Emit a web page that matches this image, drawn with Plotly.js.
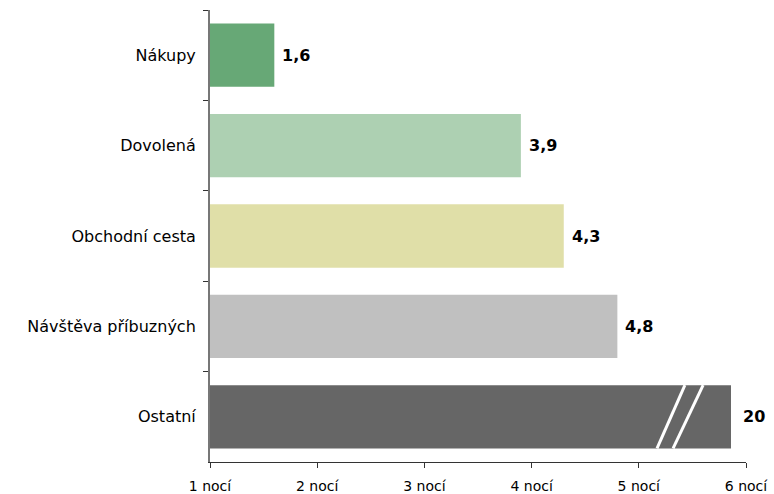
<!DOCTYPE html>
<html><head><meta charset="utf-8">
<script src="https://cdn.plot.ly/plotly-3.0.1.min.js"></script>
<style>body{margin:0;background:#fff}#c{width:774px;height:494px}</style>
</head><body><div id="c"></div>
<script>
const categories = ["Nákupy", "Dovolená", "Obchodní cesta", "Návštěva příbuzných", "Ostatní"];
const values = [1.6, 3.9, 4.3, 4.8, 20];          // actual average nights
const drawnLength = [1.6, 3.9, 4.3, 4.8, 5.86];   // last bar is drawn broken
const valueLabels = ["1,6", "3,9", "4,3", "4,8", "20"];
const colors = ["#67a876", "#add0b2", "#e0dfa8", "#c0c0c0", "#666666"];
const tickVals = [1, 2, 3, 4, 5, 6];
const tickText = ["1 nocí", "2 nocí", "3 nocí", "4 nocí", "5 nocí", "6 nocí"];

const font = "DejaVu Sans, Verdana, sans-serif";
const last = categories.length - 1;
const endX = drawnLength[last];
const breaks = [[endX - 0.69, endX - 0.43], [endX - 0.54, endX - 0.26]];
const shapes = breaks.map(b => ({
  type: "line", xref: "x", yref: "y",
  x0: b[0], x1: b[1], y0: last + 0.35, y1: last - 0.35,
  line: {color: "#ffffff", width: 3}
}));
const annotations = categories.map((c, i) => ({
  x: drawnLength[i], y: c, xref: "x", yref: "y",
  text: valueLabels[i], showarrow: false, xanchor: "left", yanchor: "middle",
  xshift: i === last ? 10 : 6,
  font: {family: font, size: 16, color: "#000", weight: "bold"}
}));

Plotly.newPlot("c", [{
  type: "bar", orientation: "h",
  y: categories, x: drawnLength,
  marker: {color: colors, line: {width: 0}},
  width: 0.7,
  hoverinfo: "none"
}], {
  width: 774, height: 494,
  margin: {l: 210, r: 28, t: 10, b: 32},
  paper_bgcolor: "#fff", plot_bgcolor: "#fff",
  showlegend: false,
  shapes: shapes,
  annotations: annotations,
  xaxis: {
    range: [1, 6], tickvals: tickVals, ticktext: tickText,
    showgrid: false, zeroline: false,
    showline: true, linecolor: "#333", linewidth: 1,
    ticks: "outside", ticklen: 5, tickcolor: "#333",
    tickfont: {family: font, size: 14, color: "#000"}, ticklabelstandoff: 6
  },
  yaxis: {
    autorange: "reversed", type: "category",
    showgrid: false, zeroline: false,
    showline: true, linecolor: "#777", linewidth: 2,
    ticks: "outside", tickson: "boundaries", ticklen: 5, tickcolor: "#333",
    tickfont: {family: font, size: 16, color: "#000"}, ticklabelstandoff: 9
  }
}, {displayModeBar: false, staticPlot: true});
</script></body></html>
